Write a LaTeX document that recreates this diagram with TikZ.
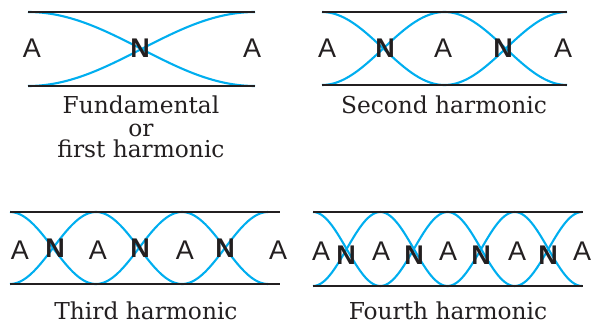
\documentclass[tikz,border=0pt]{standalone}
\usepackage{fontspec}
\setmainfont{DejaVu Serif}
\newfontfamily\lettfont{Liberation Sans}
\definecolor{wave}{RGB}{0,174,239}
\definecolor{pipeline}{RGB}{35,31,32}
\begin{document}
\begin{tikzpicture}[x=1pt,y=-1pt,
 pipe/.style={line width=2.6pt, draw=pipeline},
 wv/.style={line width=2.1pt, draw=wave},
 lA/.style={font=\lettfont\fontsize{27}{27}\selectfont, inner sep=0pt, text=pipeline},
 lN/.style={font=\lettfont\bfseries\fontsize{27}{27}\selectfont, inner sep=0pt, text=pipeline},
 lbl/.style={font=\fontsize{23.3}{26}\selectfont, inner sep=0pt, anchor=base, text=pipeline}]
\useasboundingbox (0,0) rectangle (593,326);
% Panel 1
\draw[wv] plot[domain=28:255, samples=80] (\x, {49 - 37*cos((\x-28)/227*180)});
\draw[wv] plot[domain=28:255, samples=80] (\x, {49 + 37*cos((\x-28)/227*180)});
\coordinate (p1tl) at (28,12); \coordinate (p1tr) at (255,12);
\coordinate (p1bl) at (28,86); \coordinate (p1br) at (255,86);
\draw[pipe] (p1tl) -- (p1tr);
\draw[pipe] (p1bl) -- (p1br);
\node[lA] (a11) at (32,48) {A};
\node[lN] (n11) at (140,48) {N};
\node[lA] (a12) at (252,48) {A};
\node[lbl] (c1a) at (141,113) {Fundamental};
\node[lbl] (c1b) at (141,136) {or};
\node[lbl] (c1c) at (141,157) {first harmonic};
% Panel 2
\draw[wv] plot[domain=322:567, samples=100] (\x, {48.5 - 36.5*cos((\x-322)/245*360)});
\draw[wv] plot[domain=322:567, samples=100] (\x, {48.5 + 36.5*cos((\x-322)/245*360)});
\coordinate (p2tl) at (322,12); \coordinate (p2tr) at (567,12);
\coordinate (p2bl) at (322,85); \coordinate (p2br) at (567,85);
\draw[pipe] (p2tl) -- (p2tr);
\draw[pipe] (p2bl) -- (p2br);
\node[lA] (a21) at (327,48) {A};
\node[lN] (n21) at (385,48) {N};
\node[lA] (a22) at (443,48) {A};
\node[lN] (n22) at (503,48) {N};
\node[lA] (a23) at (563,48) {A};
\node[lbl] (c2) at (444,113) {Second harmonic};
% Panel 3
\draw[wv] plot[domain=10:268, samples=120] (\x, {248 - 36*cos((\x-10)/258*540)});
\draw[wv] plot[domain=10:268, samples=120] (\x, {248 + 36*cos((\x-10)/258*540)});
\coordinate (p3tl) at (10,212); \coordinate (p3tr) at (280,212);
\coordinate (p3bl) at (10,284); \coordinate (p3br) at (280,284);
\draw[pipe] (p3tl) -- (p3tr);
\draw[pipe] (p3bl) -- (p3br);
\node[lA] (a31) at (20,250) {A};
\node[lN] (n31) at (55,248) {N};
\node[lA] (a32) at (98,250) {A};
\node[lN] (n32) at (140,248) {N};
\node[lA] (a33) at (185,250) {A};
\node[lN] (n33) at (225,248) {N};
\node[lA] (a34) at (278,250) {A};
\node[lbl] (c3) at (146,319) {Third harmonic};
% Panel 4
\draw[wv] plot[domain=313:582, samples=140] (\x, {249 - 37*cos((\x-313)/269*720)});
\draw[wv] plot[domain=313:582, samples=140] (\x, {249 + 37*cos((\x-313)/269*720)});
\coordinate (p4tl) at (313,212); \coordinate (p4tr) at (583,212);
\coordinate (p4bl) at (313,286); \coordinate (p4br) at (583,286);
\draw[pipe] (p4tl) -- (p4tr);
\draw[pipe] (p4bl) -- (p4br);
\node[lA] (a41) at (321,251) {A};
\node[lN] (n41) at (346,255) {N};
\node[lA] (a42) at (381,251) {A};
\node[lN] (n42) at (414,255) {N};
\node[lA] (a43) at (448,251) {A};
\node[lN] (n43) at (481,255) {N};
\node[lA] (a44) at (517,251) {A};
\node[lN] (n44) at (548,255) {N};
\node[lA] (a45) at (582,251) {A};
\node[lbl] (c4) at (448,319) {Fourth harmonic};
\end{tikzpicture}
\end{document}
